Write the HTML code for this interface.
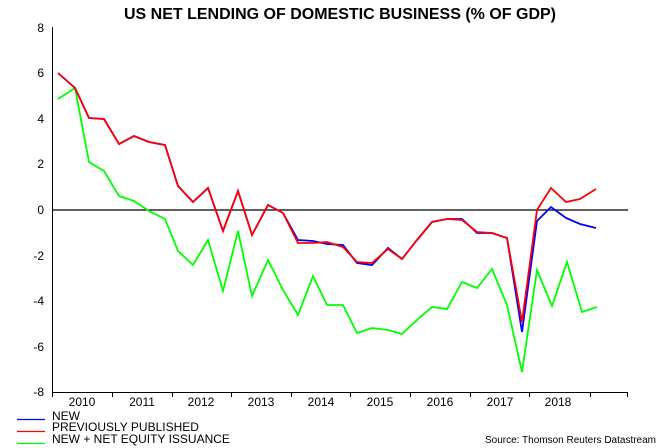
<!DOCTYPE html>
<html><head><meta charset="utf-8"><style>
html,body{margin:0;padding:0;background:#fff;}
svg{display:block;font-family:"Liberation Sans",Arial,sans-serif;}
</style></head><body>
<svg width="667" height="448" viewBox="0 0 667 448">
<rect width="667" height="448" fill="#fff"/>
<text x="124" y="19" textLength="432" lengthAdjust="spacingAndGlyphs" font-size="15.5" font-weight="bold" fill="#000">US NET LENDING OF DOMESTIC BUSINESS (% OF GDP)</text>
<g stroke="#000" stroke-width="1">
<line x1="52.5" y1="27" x2="52.5" y2="392"/>
<line x1="52" y1="392.5" x2="628" y2="392.5"/>
<line x1="52" y1="210" x2="628" y2="210" stroke-width="1.3"/>
</g>
<g id="yt" stroke="#000" stroke-width="1"></g>
<g font-size="12" fill="#000" text-anchor="end">
<text x="44" y="32">8</text><text x="44" y="77">6</text><text x="44" y="123">4</text><text x="44" y="168">2</text><text x="44" y="214">0</text><text x="44" y="260">-2</text><text x="44" y="305">-4</text><text x="44" y="351">-6</text><text x="44" y="396">-8</text>
</g>
<g stroke="#000" stroke-width="1">
<line x1="52.5" y1="392" x2="52.5" y2="397"/><line x1="112.5" y1="392" x2="112.5" y2="397"/><line x1="172.5" y1="392" x2="172.5" y2="397"/><line x1="231.5" y1="392" x2="231.5" y2="397"/><line x1="291.5" y1="392" x2="291.5" y2="397"/><line x1="350.5" y1="392" x2="350.5" y2="397"/><line x1="410.5" y1="392" x2="410.5" y2="397"/><line x1="470.5" y1="392" x2="470.5" y2="397"/><line x1="529.5" y1="392" x2="529.5" y2="397"/><line x1="590.5" y1="392" x2="590.5" y2="397"/><line x1="627.5" y1="392" x2="627.5" y2="397"/>
</g>
<g font-size="12" fill="#000" text-anchor="middle">
<text x="82" y="406">2010</text><text x="142" y="406">2011</text><text x="201" y="406">2012</text><text x="261" y="406">2013</text><text x="321" y="406">2014</text><text x="380" y="406">2015</text><text x="440" y="406">2016</text><text x="500" y="406">2017</text><text x="558" y="406">2018</text>
</g>
<polyline fill="none" stroke="#00ff00" stroke-width="1.8" points="58,99 75,88 89,162 104,171 119,196 134,201 149,211 165,219 178,251 193,265 208,240 223,291 238,231 252,296 268,260 283,290 298,315 313,276 327,305 343,305 357,333 372,328 388,330 402,334 417,320 432,307 447,309 462,282 477,288 492,269 507,305 522,372 537,270 552,306 567,262 582,312 597,307"/>
<polyline fill="none" stroke="#0000ff" stroke-width="1.8" points="58,73 75,88 89,118 104,119 119,144 134,136 149,142 165,145 178,186 193,202 208,188 223,231 238,191 252,235 268,205 283,213 298,240 313,241 327,244 343,245 357,263 372,265 388,248 402,259 417,240 432,222 447,219 462,219 477,233 492,233 507,238 522,332 537,221 551,207 566,218 580,224 596,228"/>
<polyline fill="none" stroke="#ff0000" stroke-width="1.8" points="58,73 75,88 89,118 104,119 119,144 134,136 149,142 165,145 178,186 193,202 208,188 223,231 238,191 252,235 268,205 283,213 298,243 313,243 327,242 343,247 357,262 372,263 388,249 402,259 417,240 432,222 447,219 462,220 477,232 492,233 507,238 522,322 537,210 551,188 566,202 580,199 596,189"/>
<g stroke-width="1.3">
<line x1="17" y1="419.5" x2="45" y2="419.5" stroke="#0000ff"/>
<line x1="17" y1="431.5" x2="45" y2="431.5" stroke="#ff0000"/>
<line x1="17" y1="443.5" x2="45" y2="443.5" stroke="#00ff00"/>
</g>
<g font-size="12" fill="#000">
<text x="52" y="420">NEW</text>
<text x="52" y="431">PREVIOUSLY PUBLISHED</text>
<text x="52" y="443">NEW + NET EQUITY ISSUANCE</text>
</g>
<text x="485" y="443" font-size="10" fill="#000">Source: Thomson Reuters Datastream</text>
<script>
var g=document.getElementById('yt'),s='';
for(var i=0;i<=40;i++){var y=27+i*(365/40);var l=(i%5==0)?5:4;s+='<line x1="'+(52-l)+'" y1="'+y.toFixed(1)+'" x2="52" y2="'+y.toFixed(1)+'"/>';}
g.innerHTML=s;
</script>
</svg>
</body></html>
